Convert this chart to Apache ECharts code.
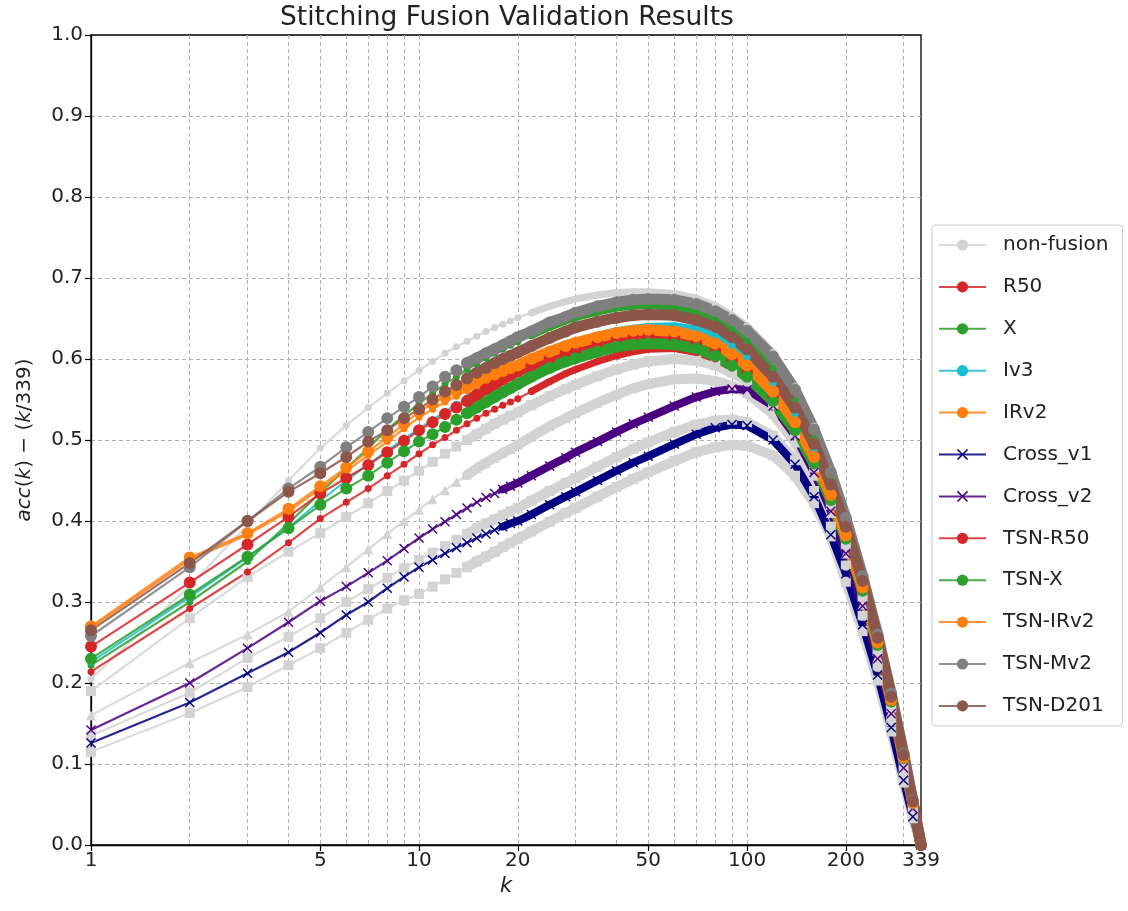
<!DOCTYPE html>
<html>
<head>
<meta charset="utf-8">
<title>Stitching Fusion Validation Results</title>
<script src="https://cdn.jsdelivr.net/npm/echarts@6/dist/echarts.min.js"></script>
<style>
  html, body { margin: 0; padding: 0; background: #fff; }
  #chart { width: 1128px; height: 911px; }
</style>
</head>
<body>
<div id="chart"></div>
<script>
const K = [1, 2, 3, 4, 5, 6, 7, 8, 9, 10,
  11, 12, 13, 14, 15, 16, 17, 18, 19, 20,
  22, 25, 28, 30, 35, 40, 45, 50, 60, 70,
  80, 90, 100, 120, 140, 160, 180, 200, 225, 250,
  275, 300, 320, 339];

const xLabelTicks = [1, 5, 10, 20, 50, 100, 200, 339];
const xGridTicks = [1, 2, 3, 4, 5, 6, 7, 8, 9, 10, 20, 30, 40, 50, 60, 70, 80, 90, 100, 200, 300];

// non-fusion curves (light gray)
const nfDots = [0.205, 0.320, 0.395, 0.450, 0.490, 0.518, 0.540, 0.558, 0.573, 0.586,
  0.597, 0.607, 0.615, 0.622, 0.628, 0.634, 0.639, 0.643, 0.647, 0.651,
  0.657, 0.665, 0.671, 0.674, 0.679, 0.682, 0.683, 0.683, 0.681, 0.675,
  0.666, 0.654, 0.641, 0.608, 0.566, 0.517, 0.463, 0.406, 0.334, 0.261,
  0.188, 0.114, 0.055, 0];
const nfSquaresA = [0.190, 0.280, 0.331, 0.362, 0.385, 0.405, 0.422, 0.437, 0.450, 0.462,
  0.473, 0.483, 0.492, 0.500, 0.507, 0.514, 0.520, 0.525, 0.530, 0.534,
  0.543, 0.554, 0.563, 0.568, 0.579, 0.587, 0.593, 0.597, 0.600, 0.598,
  0.592, 0.583, 0.572, 0.544, 0.508, 0.466, 0.420, 0.370, 0.306, 0.240,
  0.170, 0.100, 0.048, 0];
const nfTriangles = [0.160, 0.225, 0.260, 0.288, 0.318, 0.343, 0.365, 0.384, 0.400, 0.414,
  0.427, 0.438, 0.448, 0.457, 0.465, 0.472, 0.478, 0.484, 0.489, 0.494,
  0.504, 0.517, 0.527, 0.533, 0.546, 0.556, 0.564, 0.569, 0.575, 0.576,
  0.573, 0.567, 0.558, 0.532, 0.497, 0.456, 0.410, 0.360, 0.297, 0.232,
  0.164, 0.096, 0.045, 0];
const nfSquaresB = [0.135, 0.188, 0.231, 0.257, 0.280, 0.300, 0.316, 0.330, 0.342, 0.352,
  0.361, 0.369, 0.377, 0.384, 0.391, 0.397, 0.402, 0.407, 0.412, 0.416,
  0.425, 0.437, 0.447, 0.453, 0.467, 0.479, 0.489, 0.497, 0.510, 0.519,
  0.524, 0.525, 0.522, 0.505, 0.475, 0.437, 0.393, 0.345, 0.283, 0.220,
  0.153, 0.088, 0.040, 0];
const nfSquaresC = [0.115, 0.163, 0.195, 0.222, 0.243, 0.262, 0.278, 0.292, 0.302, 0.310,
  0.319, 0.328, 0.336, 0.343, 0.350, 0.356, 0.362, 0.368, 0.373, 0.378,
  0.387, 0.399, 0.410, 0.416, 0.430, 0.442, 0.452, 0.460, 0.474, 0.485,
  0.491, 0.494, 0.493, 0.481, 0.456, 0.422, 0.381, 0.325, 0.264, 0.203,
  0.140, 0.077, 0.033, 0];

// single models
const r50 = [0.214, 0.292, 0.337, 0.373, 0.403, 0.423, 0.440, 0.456, 0.470, 0.483,
  0.494, 0.503, 0.512, 0.520, 0.527, 0.533, 0.538, 0.543, 0.547, 0.551,
  0.560, 0.572, 0.582, 0.587, 0.597, 0.604, 0.609, 0.612, 0.613, 0.608,
  0.600, 0.589, 0.576, 0.546, 0.510, 0.469, 0.424, 0.376, 0.312, 0.246,
  0.176, 0.106, 0.051, 0];
const xNet = [0.222, 0.300, 0.350, 0.397, 0.435, 0.465, 0.490, 0.513, 0.530, 0.545,
  0.558, 0.569, 0.578, 0.587, 0.594, 0.601, 0.607, 0.612, 0.617, 0.621,
  0.629, 0.639, 0.647, 0.651, 0.658, 0.663, 0.665, 0.666, 0.664, 0.658,
  0.648, 0.636, 0.622, 0.588, 0.548, 0.502, 0.451, 0.398, 0.329, 0.258,
  0.185, 0.112, 0.054, 0];
const iv3 = [0.226, 0.306, 0.355, 0.392, 0.425, 0.450, 0.470, 0.487, 0.501, 0.514,
  0.525, 0.535, 0.544, 0.552, 0.560, 0.566, 0.572, 0.578, 0.583, 0.588,
  0.597, 0.608, 0.617, 0.621, 0.629, 0.635, 0.638, 0.640, 0.641, 0.637,
  0.628, 0.616, 0.602, 0.570, 0.531, 0.487, 0.439, 0.388, 0.322, 0.253,
  0.181, 0.110, 0.053, 0];
const irv2 = [0.268, 0.352, 0.383, 0.412, 0.440, 0.462, 0.481, 0.498, 0.514, 0.528,
  0.538, 0.547, 0.554, 0.561, 0.567, 0.572, 0.577, 0.581, 0.585, 0.588,
  0.596, 0.605, 0.612, 0.616, 0.623, 0.628, 0.631, 0.632, 0.631, 0.625,
  0.616, 0.603, 0.589, 0.557, 0.519, 0.477, 0.430, 0.381, 0.317, 0.249,
  0.178, 0.108, 0.052, 0];
const crossV1 = [0.126, 0.176, 0.212, 0.238, 0.262, 0.284, 0.300, 0.317, 0.331, 0.343,
  0.352, 0.360, 0.367, 0.373, 0.379, 0.384, 0.389, 0.393, 0.397, 0.400,
  0.408, 0.420, 0.430, 0.436, 0.450, 0.462, 0.472, 0.480, 0.495, 0.507,
  0.515, 0.519, 0.518, 0.500, 0.470, 0.430, 0.383, 0.335, 0.272, 0.210,
  0.145, 0.080, 0.035, 0];
const crossV2 = [0.142, 0.200, 0.243, 0.275, 0.301, 0.319, 0.336, 0.351, 0.366, 0.379,
  0.390, 0.399, 0.408, 0.416, 0.423, 0.429, 0.434, 0.439, 0.443, 0.447,
  0.456, 0.468, 0.478, 0.485, 0.498, 0.510, 0.520, 0.528, 0.542, 0.553,
  0.560, 0.563, 0.562, 0.542, 0.505, 0.460, 0.412, 0.360, 0.295, 0.230,
  0.162, 0.095, 0.045, 0];

// TSN fusions
const tsnR50 = [0.245, 0.324, 0.371, 0.405, 0.434, 0.453, 0.469, 0.485, 0.499, 0.512,
  0.522, 0.532, 0.540, 0.548, 0.556, 0.563, 0.569, 0.575, 0.580, 0.585,
  0.592, 0.601, 0.608, 0.612, 0.619, 0.624, 0.627, 0.628, 0.626, 0.620,
  0.610, 0.598, 0.584, 0.553, 0.516, 0.474, 0.428, 0.379, 0.315, 0.248,
  0.178, 0.107, 0.052, 0];
const tsnX = [0.230, 0.309, 0.356, 0.391, 0.420, 0.440, 0.456, 0.472, 0.486, 0.498,
  0.507, 0.516, 0.525, 0.533, 0.540, 0.547, 0.553, 0.559, 0.564, 0.569,
  0.578, 0.589, 0.597, 0.601, 0.609, 0.615, 0.618, 0.619, 0.618, 0.613,
  0.604, 0.592, 0.578, 0.548, 0.512, 0.471, 0.426, 0.378, 0.314, 0.247,
  0.177, 0.107, 0.052, 0];
const tsnIRv2 = [0.270, 0.355, 0.385, 0.415, 0.443, 0.466, 0.486, 0.503, 0.520, 0.535,
  0.545, 0.553, 0.560, 0.566, 0.572, 0.577, 0.581, 0.585, 0.589, 0.592,
  0.600, 0.609, 0.616, 0.620, 0.627, 0.632, 0.635, 0.636, 0.634, 0.628,
  0.619, 0.606, 0.592, 0.560, 0.522, 0.479, 0.432, 0.382, 0.318, 0.250,
  0.179, 0.108, 0.052, 0];
const tsnMv2 = [0.258, 0.343, 0.400, 0.440, 0.467, 0.491, 0.510, 0.527, 0.541, 0.553,
  0.566, 0.578, 0.586, 0.595, 0.601, 0.607, 0.612, 0.617, 0.622, 0.627,
  0.634, 0.645, 0.652, 0.657, 0.665, 0.670, 0.673, 0.674, 0.673, 0.668,
  0.659, 0.648, 0.635, 0.603, 0.562, 0.513, 0.460, 0.404, 0.332, 0.260,
  0.187, 0.113, 0.055, 0];
const tsnD201 = [0.265, 0.348, 0.400, 0.436, 0.459, 0.479, 0.498, 0.512, 0.527, 0.538,
  0.550, 0.560, 0.568, 0.576, 0.583, 0.589, 0.595, 0.600, 0.604, 0.608,
  0.616, 0.626, 0.634, 0.639, 0.646, 0.651, 0.654, 0.655, 0.654, 0.648,
  0.640, 0.627, 0.612, 0.578, 0.540, 0.495, 0.445, 0.393, 0.326, 0.256,
  0.183, 0.111, 0.054, 0];

const legendNames = ['non-fusion', 'R50', 'X', 'Iv3', 'IRv2', 'Cross_v1', 'Cross_v2',
  'TSN-R50', 'TSN-X', 'TSN-IRv2', 'TSN-Mv2', 'TSN-D201'];

const FONT = 'DejaVu Sans';
const CROSS = 'path://M0,1L1,0L5,4L9,0L10,1L6,5L10,9L9,10L5,6L1,10L0,9L4,5Z';
const GRAY = '#d3d3d3';

// drawing order matters: later ones sit on top
// band = width of the solid stripe where markers pile up, from = k where it starts
const lines = [
  { name: 'non-fusion', values: nfDots, color: GRAY, symbol: 'circle', size: 7, band: 7, from: 22 },
  { name: 'non-fusion', values: nfSquaresA, color: GRAY, symbol: 'rect', size: 10, band: 10, from: 14 },
  { name: 'non-fusion', values: nfTriangles, color: GRAY, symbol: 'triangle', size: 10, band: 10, from: 14 },
  { name: 'non-fusion', values: nfSquaresB, color: GRAY, symbol: 'rect', size: 10, band: 10, from: 14 },
  { name: 'non-fusion', values: nfSquaresC, color: GRAY, symbol: 'rect', size: 10, band: 10, from: 14 },
  { name: 'R50', values: r50, color: '#d62728', symbol: 'circle', size: 7, band: 7, from: 22 },
  { name: 'X', values: xNet, color: '#2ca02c', symbol: 'circle', size: 7, band: 7, from: 22 },
  { name: 'Iv3', values: iv3, color: '#17becf', symbol: 'circle', size: 7, band: 7, from: 22 },
  { name: 'IRv2', values: irv2, color: '#ff7f0e', symbol: 'circle', size: 7, band: 7, from: 22 },
  { name: 'Cross_v1', values: crossV1, color: '#000080', symbol: CROSS, size: 10, band: 8, from: 18 },
  { name: 'Cross_v2', values: crossV2, color: '#4b0082', symbol: CROSS, size: 10, band: 8, from: 18 },
  { name: 'TSN-R50', values: tsnR50, color: '#d62728', symbol: 'circle', size: 12, band: 11, from: 14 },
  { name: 'TSN-X', values: tsnX, color: '#2ca02c', symbol: 'circle', size: 12, band: 11, from: 14 },
  { name: 'TSN-IRv2', values: tsnIRv2, color: '#ff7f0e', symbol: 'circle', size: 12, band: 11, from: 14 },
  { name: 'TSN-Mv2', values: tsnMv2, color: '#7f7f7f', symbol: 'circle', size: 12, band: 11, from: 14 },
  { name: 'TSN-D201', values: tsnD201, color: '#8c564b', symbol: 'circle', size: 12, band: 11, from: 14 }
];

const series = [];
lines.forEach(function (l) {
  const pts = K.map(function (k, i) { return [k, l.values[i]]; });
  series.push({
    type: 'line',
    name: l.name,
    data: pts,
    symbol: l.symbol,
    symbolSize: l.size,
    itemStyle: { color: l.color, borderWidth: 0 },
    lineStyle: { color: l.color, width: 2.2, opacity: 0.85 },
    emphasis: { disabled: true }
  });
  series.push({
    type: 'line',
    name: l.name,
    data: pts.filter(function (p) { return p[0] >= l.from; }),
    symbol: 'none',
    silent: true,
    itemStyle: { color: l.color },
    lineStyle: { color: l.color, width: l.band, cap: 'round', join: 'round' },
    emphasis: { disabled: true }
  });
});

const chart = echarts.init(document.getElementById('chart'), null, { renderer: 'canvas' });

chart.setOption({
  animation: false,
  backgroundColor: '#fff',
  textStyle: { fontFamily: FONT },
  title: {
    text: 'Stitching Fusion Validation Results',
    left: 275,
    top: 0,
    textStyle: { fontFamily: FONT, fontSize: 26.5, fontWeight: 'normal', color: '#222' }
  },
  legend: {
    data: legendNames,
    orient: 'vertical',
    left: 932,
    top: 225,
    padding: [10, 14, 10, 6],
    itemWidth: 47,
    itemHeight: 14,
    itemGap: 21.9,
    backgroundColor: '#fff',
    borderColor: '#cccccc',
    borderWidth: 1,
    borderRadius: 3,
    textStyle: { fontFamily: FONT, fontSize: 20, color: '#222', padding: [0, 0, 0, 12] }
  },
  grid: {
    left: 91,
    right: 207,
    top: 35,
    bottom: 66,
    show: true,
    borderColor: '#000',
    borderWidth: 1.3,
    containLabel: false
  },
  xAxis: [
    {
      type: 'log',
      logBase: 10,
      min: 1,
      max: 339,
      axisLine: { show: true, lineStyle: { color: '#000', width: 1.3 } },
      axisTick: { show: false, customValues: xGridTicks },
      axisLabel: { show: false },
      splitLine: { show: true, showMinLine: false, lineStyle: { color: '#b0b0b0', width: 1, type: [4, 3] } }
    },
    {
      type: 'log',
      logBase: 10,
      min: 1,
      max: 339,
      position: 'bottom',
      axisLine: { show: false },
      axisTick: { show: true, length: 6, customValues: xLabelTicks, lineStyle: { color: '#000', width: 1.2 } },
      axisLabel: {
        show: true,
        customValues: xLabelTicks,
        margin: 6,
        fontFamily: FONT,
        fontSize: 20,
        color: '#222',
        formatter: function (v) { return String(Math.round(v)); }
      },
      splitLine: { show: false },
      name: 'k',
      nameLocation: 'middle',
      nameGap: 22,
      nameTextStyle: { fontFamily: FONT, fontSize: 21, fontStyle: 'italic', color: '#222' }
    }
  ],
  yAxis: {
    type: 'value',
    min: 0,
    max: 1,
    interval: 0.1,
    axisLine: { show: true, lineStyle: { color: '#000', width: 1.3 } },
    axisTick: { show: true, length: 6, lineStyle: { color: '#000', width: 1.2 } },
    axisLabel: {
      margin: 8,
      fontFamily: FONT,
      fontSize: 20,
      color: '#222',
      formatter: function (v) { return v.toFixed(1); }
    },
    splitLine: {
      show: true,
      showMinLine: false,
      showMaxLine: false,
      lineStyle: { color: '#b0b0b0', width: 1, type: [4, 3] }
    },
    name: '{i|acc}({i|k}) \u2212 ({i|k}/339)',
    nameLocation: 'middle',
    nameRotate: 90,
    nameGap: 56,
    nameTextStyle: {
      fontFamily: FONT,
      fontSize: 20,
      color: '#222',
      rich: { i: { fontFamily: FONT, fontSize: 20, fontStyle: 'italic', color: '#222' } }
    }
  },
  series: series
});
</script>
</body>
</html>
